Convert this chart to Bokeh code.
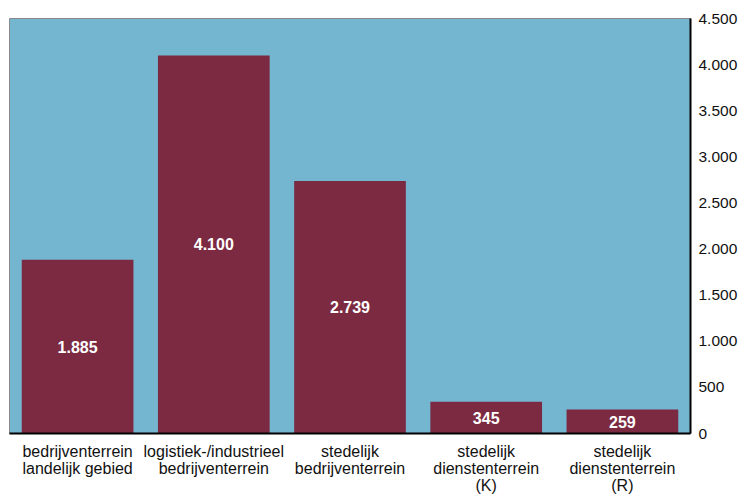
from bokeh.plotting import figure
from bokeh.models import ColumnDataSource, FactorRange, Range1d, LinearAxis, FixedTicker
from bokeh.core.properties import value
from bokeh.embed import file_html
from bokeh.resources import INLINE

categories = ["bedrijventerrein\nlandelijk gebied", "logistiek-/industrieel\nbedrijventerrein",
              "stedelijk\nbedrijventerrein", "stedelijk\ndienstenterrein\n(K)", "stedelijk\ndienstenterrein\n(R)"]
values = [1885, 4100, 2739, 345, 259]
y_ticks = [0, 500, 1000, 1500, 2000, 2500, 3000, 3500, 4000, 4500]

def fmt(v):
    return f"{v:,}".replace(",", ".")

src = ColumnDataSource(dict(cat=categories, val=values, mid=[v / 2 for v in values],
                            lab=[fmt(v) for v in values]))

p = figure(width=740, height=496, x_range=FactorRange(*categories, range_padding=0),
           y_range=Range1d(0, 4500), output_backend="svg", toolbar_location=None,
           y_axis_location=None, min_border_left=9, min_border_top=18, min_border_right=0,
           min_border_bottom=0)
p.background_fill_color = "#74B5CF"
p.border_fill_color = "white"
p.outline_line_color = "#8a8a8a"
p.outline_line_width = 1
p.grid.visible = False

p.vbar(x="cat", top="val", width=0.82, source=src, fill_color="#7B2A41", line_color=None)
p.text(x="cat", y="mid", text="lab", source=src, text_color="white",
       text_font=value("Liberation Sans"), text_font_style="bold", text_font_size="16px",
       text_align="center", text_baseline="middle")

ax = LinearAxis(ticker=FixedTicker(ticks=y_ticks),
                major_label_overrides={t: fmt(t) for t in y_ticks})
ax.major_tick_line_color = None
ax.minor_tick_line_color = None
ax.major_tick_in = 0
ax.major_tick_out = 0
ax.major_label_standoff = 8
ax.axis_line_color = "black"
ax.axis_line_width = 2
ax.major_label_text_font = "Liberation Sans"
ax.major_label_text_font_size = "15.5px"
ax.major_label_text_color = "#111111"
p.add_layout(ax, "right")

xa = p.xaxis[0]
xa.major_tick_line_color = None
xa.minor_tick_line_color = None
xa.major_tick_in = 0
xa.major_tick_out = 0
xa.major_label_standoff = 9
xa.axis_line_color = "black"
xa.axis_line_width = 2
xa.major_label_text_font = "Liberation Sans"
xa.major_label_text_font_size = "16px"
xa.major_label_text_line_height = 1.0
xa.major_label_text_color = "#111111"
xa.major_label_orientation = "horizontal"

open("out.html", "w").write(file_html(p, INLINE))
